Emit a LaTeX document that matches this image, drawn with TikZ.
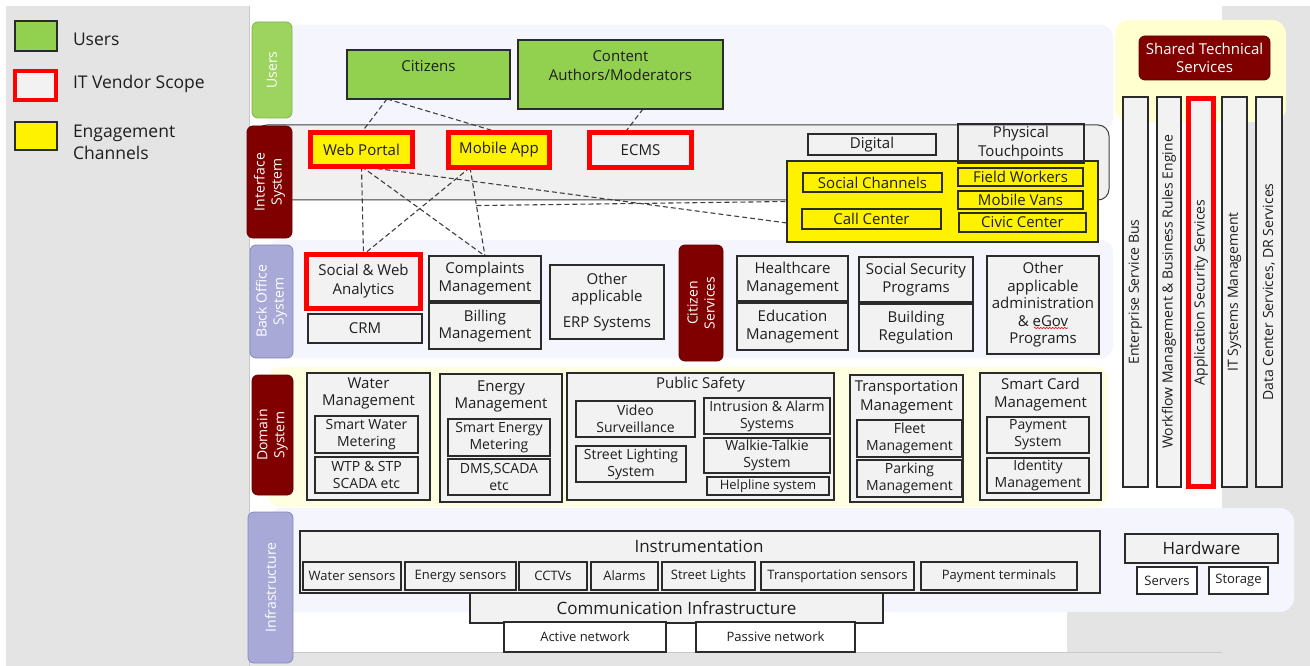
\documentclass[tikz,border=0pt]{standalone}
\usepackage{fontspec}
\setmainfont{Open Sans}
\usetikzlibrary{calc,decorations.pathmorphing}
\definecolor{bggray}{HTML}{E4E4E4}
\definecolor{bgline}{HTML}{C8C8C8}
\definecolor{panelL}{HTML}{F5F6FD}
\definecolor{panelY}{HTML}{FEFEE0}
\definecolor{panelS}{HTML}{FFFFD0}
\definecolor{rowg}{HTML}{F0F0F0}
\definecolor{boxg}{HTML}{F2F2F2}
\definecolor{usergreen}{HTML}{92D050}
\definecolor{tabred}{HTML}{800000}
\definecolor{tabredd}{HTML}{5E0000}
\definecolor{tablav}{HTML}{A9A9D8}
\definecolor{tablavd}{HTML}{8888BB}
\definecolor{tabgreen}{HTML}{9DD45F}
\definecolor{tabgreend}{HTML}{7FB543}
\definecolor{edge}{HTML}{2B2B2B}
\definecolor{txt}{HTML}{1E1E1E}
\newcommand\fA{\fontsize{14}{17}\selectfont}
\newcommand\fB{\fontsize{13}{16}\selectfont}
\newcommand\fC{\fontsize{15}{17.5}\selectfont}
\newcommand\fT{\fontsize{14}{17}\selectfont}
\newcommand\fH{\fontsize{17}{20}\selectfont}
\newcommand\fL{\fontsize{17.5}{22}\selectfont}
\newcommand\mybox[7]{\node[#2, minimum width={(#5-#3)*1pt}, minimum height={(#6-#4)*1pt}] (#1) at ({(#3+#5)/2},{(#4+#6)/2}) {#7};}
\newcommand\mytab[7]{\node[#2, rotate=90, minimum width={(#6-#4)*1pt}, minimum height={(#5-#3)*1pt}] (#1) at ({(#3+#5)/2},{(#4+#6)/2}) {#7};}
\pgfdeclarelayer{back}
\pgfdeclarelayer{mid}
\pgfsetlayers{back,mid,main}
\tikzset{
  base/.style={inner sep=0pt, outer sep=0pt, align=center, font=\fA, text=txt},
  gbox/.style={base, draw=edge, fill=boxg, line width=1.1pt},
  nbox/.style={base, draw=edge, line width=1.1pt},
  wbox/.style={base, draw=edge, fill=white, line width=1.1pt},
  gboxG/.style={base, draw=edge, fill=usergreen, line width=1.1pt, font=\fC},
  ybox/.style={base, draw=edge, fill=yellow, line width=1.1pt},
  ybox2/.style={base, draw=edge, fill=yellow, line width=1.6pt, font=\fC},
  redY/.style={base, draw=red, fill=yellow, line width=5pt, font=\fC},
  redW/.style={base, draw=red, fill=boxg, line width=5pt, font=\fC},
  tabR/.style={base, fill=tabred, draw=tabredd, line width=0.8pt, rounded corners=6pt, text=white, font=\fT},
  tabL/.style={base, fill=tablav, draw=tablavd, line width=0.8pt, rounded corners=6pt, text=white, font=\fT},
  tabG/.style={base, fill=tabgreen, draw=tabgreend, line width=0.8pt, rounded corners=6pt, text=white, font=\fT},
  conn/.style={draw=black!75, line width=1.1pt, dash pattern=on 5pt off 3pt},
  txtn/.style={base, font=\fC},
  squig/.style={draw=red, line width=0.6pt, decorate, decoration={zigzag, segment length=3pt, amplitude=0.8pt}},
}
\begin{document}
\begin{tikzpicture}[x=1pt,y=-1pt]
\useasboundingbox (0,0) rectangle (1310,666);
\begin{pgfonlayer}{back}
% page backgrounds
\fill[white] (0,0) rectangle (1310,666);
\fill[bggray] (6,6) rectangle (249,666);
\fill[bggray] (1222,6) rectangle (1310,666);
\fill[bggray] (249,652) rectangle (1222,666);
\fill[bggray] (1067,612) rectangle (1222,652);
\draw[bgline, line width=1.2pt] (249.5,6) -- (249.5,666);
\draw[bgline, line width=1pt] (249.5,652) -- (1222,652);
% panels
\fill[panelL, rounded corners=12pt] (268,25) rectangle (1113,130);
\fill[panelS, rounded corners=14pt] (1115,20) rectangle (1286,122);
\filldraw[fill=rowg, draw=black!75, line width=1pt, rounded corners=11pt] (256,125) rectangle (1109,200);
\fill[panelL, rounded corners=12pt] (268,240) rectangle (1113,358);
\fill[panelY, rounded corners=12pt] (268,367) rectangle (1108,507);
\fill[panelL, rounded corners=14pt] (268,508) rectangle (1294,612);
\end{pgfonlayer}

% legend
\mybox{lgU}{gboxG}{15}{21}{57}{51}{}
\node[base, anchor=west, font=\fL] (lgUt) at (73,39) {Users};
\mybox{lgV}{redW, line width=4pt}{15}{71}{56}{100}{}
\node[base, anchor=west, font=\fL] (lgVt) at (73,84) {IT Vendor Scope};
\mybox{lgE}{ybox}{15}{122}{57}{150}{}
\node[base, anchor=west, align=left, font=\fL] (lgEt) at (73,142) {Engagement\\Channels};

% tabs
\mytab{tU}{tabG}{252}{22}{292}{118}{Users}
\mytab{tI}{tabR}{247}{126}{292}{238}{Interface\\System}
\mytab{tB}{tabL}{250}{245}{293}{358}{Back Office\\System}
\mytab{tD}{tabR}{252}{375}{293}{495}{Domain\\System}
\mytab{tF}{tabL}{248}{512}{293}{663}{Infrastructure}
\mytab{tC}{tabR}{679}{245}{723}{361}{Citizen\\Services}
\mybox{tS}{tabR, font=\fC}{1139}{36}{1270}{80}{Shared Technical\\Services}

% users
\mybox{cit}{gboxG}{347}{50}{510}{99}{}
\node[txtn] (citt) at (428.5,66) {Citizens};
\mybox{cam}{gboxG}{518}{40}{723}{109}{}
\node[txtn, font=\fontsize{15}{19}\selectfont] (camt) at (620.5,65.5) {Content\\Authors/Moderators};

% interface
\mybox{wp}{redY}{310.5}{132.5}{412.5}{166.5}{Web Portal}
\mybox{mob}{redY}{448.5}{132.5}{549.5}{167.5}{Mobile App}
\mybox{ecms}{redW}{589.5}{132.5}{691.5}{167.5}{ECMS}
\mybox{dig}{gbox, font=\fC}{808}{134}{936}{155}{Digital}
\mybox{yb}{ybox}{787}{161}{1098}{242}{}
\mybox{pt}{nbox, font=\fontsize{15}{19}\selectfont}{958}{124}{1084}{163}{Physical\\Touchpoints}
\mybox{sc}{ybox2}{803}{173}{942}{192}{Social Channels}
\mybox{cc}{ybox2}{802}{209}{941}{229}{Call Center}
\mybox{fw}{ybox2}{958}{168}{1083}{186}{Field Workers}
\mybox{mv}{ybox2}{958}{191}{1083}{209}{Mobile Vans}
\mybox{cv}{ybox2}{959}{213}{1086}{232}{Civic Center}

% back office
\mybox{swa}{redW, font=\fontsize{15}{19}\selectfont}{306.5}{254.5}{420.5}{308.5}{Social \& Web\\Analytics}
\mybox{crm}{gbox, font=\fC}{308}{314}{422}{343}{CRM}
\mybox{cm}{gbox, font=\fC}{429}{256}{541}{301}{Complaints\\Management}
\mybox{bm}{gbox, font=\fC}{429}{303}{541}{349}{Billing\\Management}
\mybox{erp}{gbox, font=\fC}{550}{265}{664}{339}{Other\\applicable\\[8pt]ERP Systems}
\mybox{hc}{gbox, font=\fC}{737}{256}{848}{301}{Healthcare\\Management}
\mybox{ed}{gbox, font=\fC}{737}{303}{848}{350}{Education\\Management}
\mybox{ss}{gbox, font=\fC}{859}{257}{973}{302}{Social Security\\Programs}
\mybox{br}{gbox, font=\fC}{859}{304}{973}{351}{Building\\Regulation}
\mybox{oa}{gbox, font=\fC}{987}{256}{1099}{354}{Other\\applicable\\administration\\\& eGov\\Programs}
\draw[squig] ($(oa.center)+(-9,23)$) -- ($(oa.center)+(25,23)$);

% domain
\mybox{wm}{gbox}{307}{373}{430}{500}{}
\node[txtn, font=\fontsize{15}{17}\selectfont] (wmt) at (368.5,393.5) {Water\\Management};
\mybox{swm}{gbox}{315}{416}{418}{453}{Smart Water\\Metering}
\mybox{wtp}{gbox}{315}{457}{418}{493}{WTP \& STP\\SCADA etc}
\mybox{em}{gbox}{440}{374}{562}{502}{}
\node[txtn, font=\fontsize{15}{17}\selectfont] (emt) at (501,396.5) {Energy\\Management};
\mybox{sem}{gbox}{448}{419}{550}{456}{Smart Energy\\Metering}
\mybox{dms}{gbox}{448}{459}{550}{495}{DMS,SCADA\\etc}
\mybox{ps}{gbox}{567}{373}{834}{500}{}
\node[txtn] (pst) at (700.5,385) {Public Safety};
\mybox{vs}{gbox}{576}{401}{695}{437}{Video\\Surveillance}
\mybox{sl}{gbox}{576}{446}{686}{482}{Street Lighting\\System}
\mybox{ia}{gbox}{704}{398}{830}{434}{Intrusion \& Alarm\\Systems}
\mybox{wt}{gbox}{704}{438}{830}{473}{Walkie-Talkie\\System}
\mybox{hl}{gbox, font=\fB}{707}{477}{829}{495}{Helpline system}
\mybox{tm}{gbox}{850}{375}{963}{502}{}
\node[txtn, font=\fontsize{15}{19}\selectfont] (tmt) at (906.5,397.5) {Transportation\\Management};
\mybox{fm}{gbox}{857}{420}{962}{457}{Fleet\\Management}
\mybox{pm}{gbox}{857}{460}{962}{497}{Parking\\Management}
\mybox{scm}{gbox}{980}{373}{1101}{500}{}
\node[txtn, font=\fontsize{15}{18}\selectfont] (scmt) at (1040.5,395) {Smart Card\\Management};
\mybox{pay}{gbox}{987}{417}{1089}{453}{Payment\\System}
\mybox{idm}{gbox}{987}{458}{1089}{493}{Identity\\Management}

% infrastructure
\mybox{ins}{gbox}{300}{531}{1100}{593}{}
\node[base, font=\fH] (inst) at (699,546) {Instrumentation};
\mybox{s1}{gbox, line width=1.4pt, font=\fB}{303}{562}{401}{590}{Water sensors}
\mybox{s2}{gbox, line width=1.4pt, font=\fB}{405}{562}{516}{590}{Energy sensors}
\mybox{s3}{gbox, line width=1.4pt, font=\fB}{519}{562}{587}{590}{CCTVs}
\mybox{s4}{gbox, line width=1.4pt, font=\fB}{591}{562}{658}{590}{Alarms}
\mybox{s5}{gbox, line width=1.4pt, font=\fB}{662}{562}{755}{590}{Street Lights}
\mybox{s6}{gbox, line width=1.4pt, font=\fB}{761}{562}{914}{590}{Transportation sensors}
\mybox{s7}{gbox, line width=1.4pt, font=\fB}{921}{562}{1077}{590}{Payment terminals}
\mybox{ci}{gbox, font=\fH}{470}{593}{883}{623}{Communication Infrastructure}
\mybox{an}{wbox, font=\fB}{504}{622}{666}{652}{Active network}
\mybox{pn}{wbox, font=\fB}{696}{622}{855}{652}{Passive network}
\mybox{hw}{gbox, font=\fH}{1125}{534}{1278}{563}{Hardware}
\mybox{srv}{wbox, font=\fB}{1137}{567}{1197}{594}{Servers}
\mybox{sto}{wbox, font=\fB}{1209}{567}{1268}{594}{Storage}

% shared technical services
\mytab{esb}{gbox}{1123}{97}{1148}{487}{Enterprise Service Bus}
\mytab{wf}{gbox}{1157}{97}{1181}{487}{Workflow Management \& Business Rules Engine}
\mytab{as}{redW, font=\fA}{1188.5}{98.5}{1213.5}{486.5}{Application Security Services}
\mytab{itm}{gbox}{1222}{97}{1247}{487}{IT Systems Management}
\mytab{dc}{gbox}{1256}{97}{1282}{487}{Data Center Services, DR Services}

% connectors
\begin{pgfonlayer}{mid}
\coordinate (citb) at ($(cit.south west)+(40,0)$);
\coordinate (camb) at ($(cam.south west)+(125,0)$);
\coordinate (ecmt) at ($(ecms.north west)+(35.5,0)$);
\coordinate (mobb) at ($(mob.south west)+(21.5,0)$);
\coordinate (ybl) at ($(yb.south west)+(0,-19)$);
\draw[conn] (citb) -- (wp.north);
\draw[conn] (citb) -- (mob.north);
\draw[conn] (camb) -- (ecmt);
\draw[conn] (wp.south) -- (swa.north);
\draw[conn] (wp.south) -- (cm.north);
\draw[conn] (wp.south) -- (ybl);
\draw[conn] (mobb) -- (swa.north);
\draw[conn] (mobb) -- (cm.north);
\coordinate (mid1) at ($(mobb)!0.43!(cm.north)$);
\draw[conn] (mid1) -- (yb.west);
\end{pgfonlayer}
\end{tikzpicture}
\end{document}
